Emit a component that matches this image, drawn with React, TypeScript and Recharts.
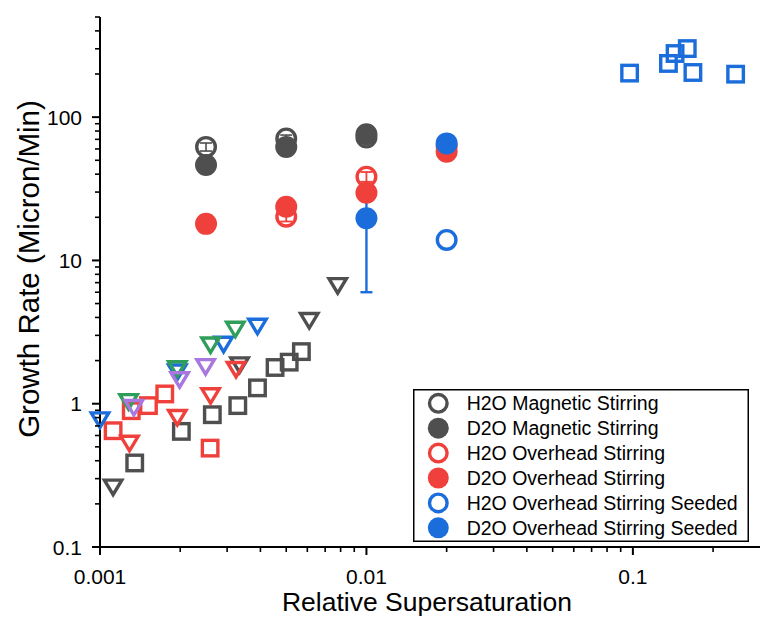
import React from 'react';
import { ScatterChart, Scatter, XAxis, YAxis, ErrorBar, Legend } from 'recharts';

const FONT = '"Liberation Sans", Arial, Helvetica, sans-serif';

const GRAY = '#4f4f4f';
const RED = '#f0403c';
const BLUE = '#1c6ddc';
const GREEN = '#2e9e5a';
const PURPLE = '#a878de';

// ---- circles (legend series) ----
const magH2O = [
  { x: 0.0025, y: 62, err: 4 },
  { x: 0.005, y: 71, err: 4 },
  { x: 0.01, y: 72, err: 4 },
];
const magD2O = [
  { x: 0.0025, y: 46.3 },
  { x: 0.005, y: 62 },
  { x: 0.01, y: 76 },
];
const ohH2O = [
  { x: 0.005, y: 20.2, err: 1.5 },
  { x: 0.01, y: 38.4, err: 3 },
  { x: 0.02, y: 62.7, err: 9 },
];
const ohD2O = [
  { x: 0.0025, y: 18 },
  { x: 0.005, y: 23.7 },
  { x: 0.01, y: 29.7 },
  { x: 0.02, y: 57.3 },
];
const seedH2O = [{ x: 0.02, y: 13.9 }];
const seedD2O = [
  { x: 0.01, y: 19.7, err: 13.7 },
  { x: 0.02, y: 65.6 },
];

// ---- squares / triangles (unlabelled series) ----
const graySquares = [
  { x: 0.00135, y: 0.386 }, { x: 0.00202, y: 0.641 }, { x: 0.00264, y: 0.838 },
  { x: 0.00329, y: 0.97 }, { x: 0.0039, y: 1.29 }, { x: 0.00454, y: 1.79 },
  { x: 0.00513, y: 1.95 }, { x: 0.0057, y: 2.31 },
];
const grayTriangles = [
  { x: 0.00112, y: 0.258 }, { x: 0.00334, y: 1.84 }, { x: 0.0061, y: 3.75 }, { x: 0.0078, y: 6.57 },
];
const redSquares = [
  { x: 0.00112, y: 0.648 }, { x: 0.00131, y: 0.894 }, { x: 0.00152, y: 0.97 },
  { x: 0.00175, y: 1.17 }, { x: 0.00259, y: 0.49 },
];
const redTriangles = [
  { x: 0.00129, y: 0.522 }, { x: 0.00195, y: 0.79 }, { x: 0.0026, y: 1.12 }, { x: 0.00324, y: 1.71 },
];
const blueTriangles = [
  { x: 0.001, y: 0.76 }, { x: 0.00195, y: 1.64 }, { x: 0.00291, y: 2.56 }, { x: 0.0039, y: 3.42 },
];
const greenTriangles = [
  { x: 0.00128, y: 1.02 }, { x: 0.00195, y: 1.73 }, { x: 0.0026, y: 2.53 }, { x: 0.00322, y: 3.26 },
];
const purpleTriangles = [
  { x: 0.00134, y: 0.927 }, { x: 0.00199, y: 1.45 }, { x: 0.00249, y: 1.79 },
];
const blueSquares = [
  { x: 0.0972, y: 203 }, { x: 0.136, y: 237 }, { x: 0.144, y: 278 },
  { x: 0.16, y: 301 }, { x: 0.168, y: 205 }, { x: 0.243, y: 199.5 },
];

// ---- axes ----
const xTicks = [
  0.001, 0.002, 0.003, 0.004, 0.005, 0.006, 0.007, 0.008, 0.009,
  0.01, 0.02, 0.03, 0.04, 0.05, 0.06, 0.07, 0.08, 0.09,
  0.1, 0.2,
];
const xMajor = [0.001, 0.01, 0.1];
const xMajorLabels = ['0.001', '0.01', '0.1'];
const yTicks = [
  0.1, 0.2, 0.3, 0.4, 0.5, 0.6, 0.7, 0.8, 0.9,
  1, 2, 3, 4, 5, 6, 7, 8, 9,
  10, 20, 30, 40, 50, 60, 70, 80, 90,
  100, 200, 300, 400, 500,
];
const yMajor = [0.1, 1, 10, 100];
const yMajorLabels = ['0.1', '1', '10', '100'];

const legendLabels = [
  'H2O Magnetic Stirring',
  'D2O Magnetic Stirring',
  'H2O Overhead Stirring',
  'D2O Overhead Stirring',
  'H2O Overhead Stirring Seeded',
  'D2O Overhead Stirring Seeded',
];
const legendColors = [GRAY, GRAY, RED, RED, BLUE, BLUE];
const legendFilled = [false, true, false, true, false, true];

const majorIndex = (v: number, list: number[]) =>
  list.findIndex((m) => Math.abs(v - m) / m < 1e-6);

const SW = 3.4;

const openCircle = (color: string) => (p: any) => (
  <circle cx={p.cx} cy={p.cy} r={9.3} fill="none" stroke={color} strokeWidth={SW} />
);
const filledCircle = (color: string) => (p: any) => (
  <circle cx={p.cx} cy={p.cy} r={11} fill={color} stroke="none" />
);
const openSquare = (color: string) => (p: any) => (
  <rect x={p.cx - 7.75} y={p.cy - 7.75} width={15.5} height={15.5} fill="none" stroke={color} strokeWidth={SW} />
);
const downTriangle = (color: string) => (p: any) => {
  const { cx, cy } = p;
  const w = 8.7, t = 7.9, b = 6.6;
  return (
    <path
      d={`M${cx - w},${cy - t}L${cx + w},${cy - t}L${cx},${cy + b}Z`}
      fill="none"
      stroke={color}
      strokeWidth={SW}
      strokeLinejoin="miter"
    />
  );
};
const noShape = () => <g />;

const renderXTick = (props: any) => {
  const { x, y, payload } = props;
  const idx = majorIndex(payload.value, xMajor);
  const major = idx >= 0;
  return (
    <g>
      <line x1={x} x2={x} y1={y} y2={y + (major ? 8 : 5)} stroke="#000" strokeWidth={major ? 2 : 1.6} />
      {major && (
        <text x={x} y={y + 37} textAnchor="middle" fontSize={21} fontFamily={FONT} fill="#000">
          {xMajorLabels[idx]}
        </text>
      )}
    </g>
  );
};

const renderYTick = (props: any) => {
  const { x, y, payload } = props;
  const idx = majorIndex(payload.value, yMajor);
  const major = idx >= 0;
  return (
    <g>
      <line x1={x} x2={x - (major ? 8 : 5)} y1={y} y2={y} stroke="#000" strokeWidth={major ? 2 : 1.6} />
      {major && (
        <text x={x - 18} y={y + 7.5} textAnchor="end" fontSize={21} fontFamily={FONT} fill="#000">
          {yMajorLabels[idx]}
        </text>
      )}
    </g>
  );
};

const renderXTitle = () => (
  <text x={427} y={611} textAnchor="middle" fontSize={26.5} fontFamily={FONT} fill="#000">
    Relative Supersaturation
  </text>
);
const renderYTitle = () => (
  <text
    x={39}
    y={269}
    textAnchor="middle"
    fontSize={29.5}
    fontFamily={FONT}
    fill="#000"
    transform="rotate(-90 39 269)"
  >
    Growth Rate (Micron/Min)
  </text>
);

const LegendBox = () => (
  <svg width={336} height={153} style={{ display: 'block' }}>
    <rect x={0.75} y={0.75} width={334.5} height={151.5} fill="#fff" stroke="#000" strokeWidth={1.5} />
    {legendLabels.map((label, i) => {
      const cy = 14.3 + i * 24.9;
      const filled = legendFilled[i];
      const color = legendColors[i];
      return (
        <g key={label}>
          {filled ? (
            <circle cx={25.3} cy={cy} r={10.5} fill={color} />
          ) : (
            <circle cx={25.3} cy={cy} r={8.8} fill="none" stroke={color} strokeWidth={SW} />
          )}
          <text x={53.7} y={cy + 7} fontSize={19.5} fontFamily={FONT} fill="#000">
            {label}
          </text>
        </g>
      );
    })}
  </svg>
);

export default function App() {
  return (
    <div style={{ position: 'absolute', left: 0, top: 0, width: 760, height: 628, background: '#fff' }}>
      <ScatterChart width={760} height={628} margin={{ top: 17, right: 0, bottom: 0, left: 0 }}>
        <XAxis
          type="number"
          dataKey="x"
          scale="log"
          domain={[0.001, 0.3]}
          ticks={xTicks}
          interval={0}
          tickSize={0}
          tickMargin={0}
          tickLine={false}
          axisLine={{ stroke: '#000', strokeWidth: 2 }}
          height={81}
          tick={renderXTick}
          label={renderXTitle}
        />
        <YAxis
          type="number"
          dataKey="y"
          scale="log"
          domain={[0.1, 500]}
          ticks={yTicks}
          interval={0}
          tickSize={0}
          tickMargin={0}
          tickLine={false}
          axisLine={{ stroke: '#000', strokeWidth: 2 }}
          width={100}
          tick={renderYTick}
          label={renderYTitle}
        />
        <Legend
          layout="vertical"
          align="center"
          verticalAlign="middle"
          wrapperStyle={{ position: 'absolute', left: 413, top: 389, width: 336, height: 153 }}
          content={() => <LegendBox />}
        />

        <Scatter name="gray squares" data={graySquares} shape={openSquare(GRAY)} isAnimationActive={false} legendType="none" />
        <Scatter name="gray triangles" data={grayTriangles} shape={downTriangle(GRAY)} isAnimationActive={false} legendType="none" />
        <Scatter name="red squares" data={redSquares} shape={openSquare(RED)} isAnimationActive={false} legendType="none" />
        <Scatter name="red triangles" data={redTriangles} shape={downTriangle(RED)} isAnimationActive={false} legendType="none" />
        <Scatter name="blue triangles" data={blueTriangles} shape={downTriangle(BLUE)} isAnimationActive={false} legendType="none" />
        <Scatter name="green triangles" data={greenTriangles} shape={downTriangle(GREEN)} isAnimationActive={false} legendType="none" />
        <Scatter name="purple triangles" data={purpleTriangles} shape={downTriangle(PURPLE)} isAnimationActive={false} legendType="none" />
        <Scatter name="blue squares" data={blueSquares} shape={openSquare(BLUE)} isAnimationActive={false} legendType="none" />

        <Scatter name={legendLabels[0]} data={magH2O} shape={openCircle(GRAY)} isAnimationActive={false} />
        <Scatter name={legendLabels[1]} data={magD2O} shape={filledCircle(GRAY)} isAnimationActive={false} />
        <Scatter name={legendLabels[2]} data={ohH2O} shape={openCircle(RED)} isAnimationActive={false} />
        <Scatter name={legendLabels[3]} data={ohD2O} shape={filledCircle(RED)} isAnimationActive={false} />
        <Scatter name={legendLabels[4]} data={seedH2O} shape={openCircle(BLUE)} isAnimationActive={false} />
        <Scatter name={legendLabels[5]} data={seedD2O} shape={filledCircle(BLUE)} isAnimationActive={false} />

        {/* error bars drawn on top */}
        <Scatter name="mag err" data={magH2O.slice(0, 2)} shape={noShape} isAnimationActive={false} legendType="none">
          <ErrorBar dataKey="err" direction="y" width={6} stroke={GRAY} strokeWidth={1.6} isAnimationActive={false} />
        </Scatter>
        <Scatter name="oh err" data={ohH2O} shape={noShape} isAnimationActive={false} legendType="none">
          <ErrorBar dataKey="err" direction="y" width={6} stroke={RED} strokeWidth={1.8} isAnimationActive={false} />
        </Scatter>
        <Scatter name="seed err" data={seedD2O} shape={noShape} isAnimationActive={false} legendType="none">
          <ErrorBar dataKey="err" direction="y" width={6} stroke={BLUE} strokeWidth={2.4} isAnimationActive={false} />
        </Scatter>
      </ScatterChart>
    </div>
  );
}
